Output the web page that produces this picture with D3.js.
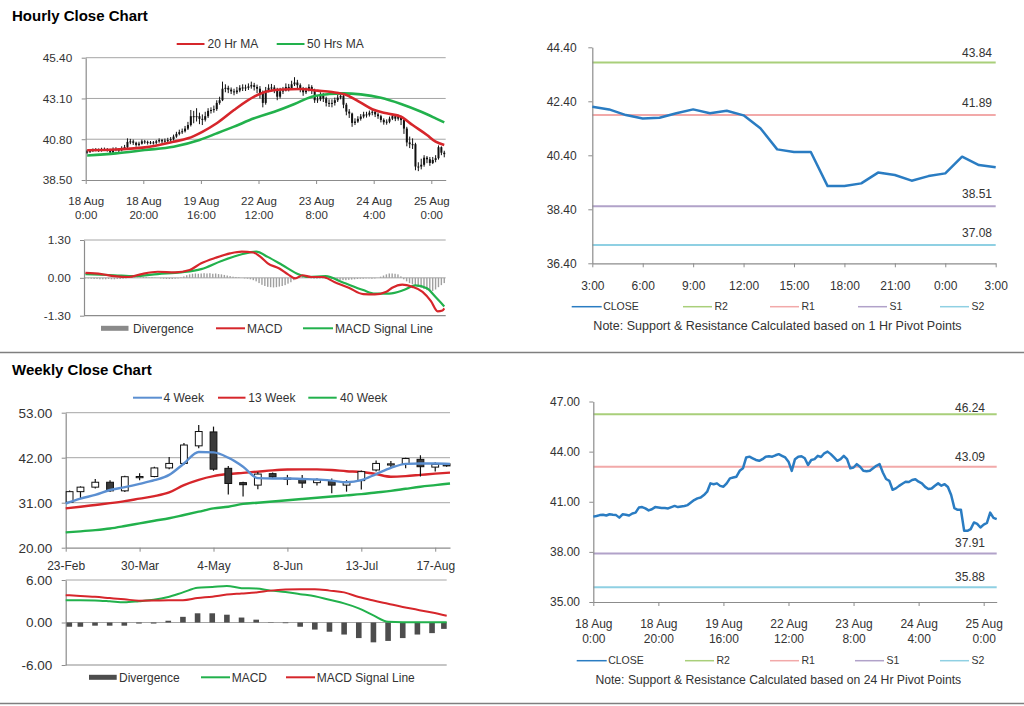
<!DOCTYPE html>
<html><head><meta charset="utf-8">
<script src="https://cdn.jsdelivr.net/npm/d3@7"></script>
<style>body{margin:0;background:#fff;}svg{display:block;}</style>
</head><body><svg id="c" width="1024" height="706"></svg>
<script>
// ---------------- DATA ----------------
// Hourly (18 Aug 0:00 .. 25 Aug), 125 trading hours
const hourTickIdx=[0,20,40,60,80,100,120];
const hourTickDates=["18 Aug","18 Aug","19 Aug","22 Aug","23 Aug","24 Aug","25 Aug"];
const hourTickTimes=["0:00","20:00","16:00","12:00","8:00","4:00","0:00"];

const hourlyClose=[40.11,40.15,40.20,40.22,40.18,40.25,40.22,40.20,40.05,40.25,
40.22,40.18,40.30,40.35,40.65,40.68,40.60,40.48,40.55,40.68,
40.65,40.62,40.62,40.60,40.68,40.75,40.68,40.72,40.75,40.80,
40.95,41.10,41.20,41.25,41.40,41.60,42.10,42.05,42.10,41.95,
41.90,42.10,42.40,42.45,42.50,42.85,43.00,43.65,43.70,43.60,
43.50,43.45,43.55,43.70,43.72,43.70,43.78,43.85,43.75,43.65,
43.40,42.85,43.55,43.70,43.72,43.60,43.20,43.50,43.55,43.75,
43.68,43.90,44.00,43.85,43.65,43.45,43.55,43.75,43.55,43.00,
43.05,43.25,43.10,42.85,42.82,42.85,43.00,43.15,43.25,42.75,
42.36,42.25,41.72,41.80,41.95,42.08,42.20,42.18,42.30,42.35,
42.20,42.10,41.89,41.76,41.79,41.96,42.10,41.96,42.05,41.88,
41.40,40.62,40.52,40.52,39.26,39.26,39.36,39.76,39.67,39.46,
39.63,39.73,40.35,40.04,39.96];
const hourlyOpen=[40.05,40.11,40.15,40.20,40.22,40.18,40.25,40.22,40.20,40.05,
40.25,40.22,40.18,40.30,40.35,40.65,40.68,40.60,40.48,40.55,
40.68,40.65,40.62,40.62,40.60,40.68,40.75,40.68,40.72,40.75,
40.80,40.95,41.10,41.20,41.25,41.40,41.60,42.10,42.05,42.10,
41.95,41.90,42.10,42.40,42.45,42.50,42.85,43.00,43.65,43.70,
43.60,43.50,43.45,43.55,43.70,43.72,43.70,43.78,43.85,43.75,
43.65,43.40,42.85,43.55,43.70,43.72,43.60,43.20,43.50,43.55,
43.75,43.68,43.90,44.00,43.85,43.65,43.45,43.55,43.75,43.55,
43.00,43.05,43.25,43.10,42.85,42.82,42.85,43.00,43.15,43.25,
42.75,42.36,42.25,41.72,41.80,41.95,42.08,42.20,42.18,42.30,
42.35,42.20,42.10,41.89,41.76,41.79,41.96,42.10,41.96,42.05,
41.88,41.40,40.62,40.52,40.52,39.26,39.26,39.36,39.76,39.67,
39.46,39.63,39.73,40.35,40.04];
const hourlyHigh=[40.20,40.22,40.28,40.30,40.28,40.32,40.33,40.30,40.26,40.34,
40.35,40.28,40.40,40.48,40.85,40.82,40.78,40.66,40.66,40.78,
40.76,40.72,40.70,40.70,40.76,40.85,40.82,40.84,40.88,40.92,
41.06,41.22,41.34,41.40,41.55,41.78,42.45,42.40,42.55,42.30,
42.20,42.35,42.55,42.60,42.70,43.00,43.20,44.05,43.90,43.82,
43.72,43.65,43.75,43.85,43.90,43.88,43.95,44.05,43.98,43.88,
43.80,43.55,43.75,43.90,43.92,43.85,43.70,43.70,43.75,43.95,
43.92,44.10,44.30,44.15,43.95,43.75,43.72,43.90,43.85,43.65,
43.25,43.45,43.40,43.20,43.05,43.05,43.15,43.30,43.45,43.35,
42.85,42.50,42.30,41.98,42.10,42.22,42.35,42.35,42.42,42.48,
42.45,42.30,42.18,41.98,41.92,42.08,42.22,42.20,42.18,42.12,
41.95,41.50,40.95,40.85,40.60,39.50,39.70,39.90,39.85,39.80,
39.80,39.90,40.45,40.40,40.15];
const hourlyLow=[39.98,40.02,40.08,40.12,40.08,40.10,40.14,40.10,39.96,40.00,
40.12,40.06,40.12,40.22,40.30,40.52,40.48,40.38,40.40,40.50,
40.54,40.50,40.52,40.50,40.52,40.60,40.58,40.60,40.64,40.66,
40.72,40.88,41.02,41.10,41.18,41.32,41.52,41.70,41.80,41.65,
41.60,41.80,42.00,42.25,42.30,42.40,42.75,42.95,43.45,43.40,
43.35,43.28,43.35,43.45,43.52,43.52,43.58,43.65,43.55,43.40,
43.10,42.60,42.75,43.45,43.50,43.40,43.00,43.10,43.35,43.50,
43.50,43.60,43.80,43.65,43.45,43.25,43.35,43.50,43.35,42.85,
42.85,42.95,42.90,42.65,42.62,42.60,42.70,42.90,43.05,42.55,
42.15,42.00,41.50,41.60,41.72,41.85,41.98,42.02,42.08,42.15,
42.05,41.95,41.75,41.62,41.62,41.70,41.88,41.82,41.85,41.60,
41.10,40.40,40.30,40.25,39.05,39.00,39.10,39.25,39.45,39.30,
39.40,39.50,39.65,39.90,39.78];

const ma20Hours=[0,10,20,30,35,40,45,51,58,62,68,74,80,85,90,95,99,104,109,113,118,121,124];
const ma20Values=[40.18,40.22,40.34,40.66,40.85,41.22,41.70,42.45,43.20,43.48,43.61,43.63,43.54,43.46,43.30,42.86,42.49,42.26,42.07,41.60,41.04,40.66,40.47];
const ma50Hours=[0,10,20,30,39,45,51,58,65,72,78,84,89,95,102,109,116,121,124];
const ma50Values=[39.88,40.00,40.19,40.38,40.76,41.13,41.51,41.98,42.35,42.79,43.20,43.35,43.39,43.33,43.14,42.79,42.35,41.98,41.75];

const hMacdHours=[0,5.5,10,15,19,25,31,36,40,45,50,54,58,60.5,63,67,70,72.5,75,78,82,86,91,96,100,104,106,109.5,113,116.5,119.4,121.7,123.4,124];
const hMacdValues=[0.17,0.13,0.06,0.03,0.12,0.21,0.19,0.27,0.50,0.69,0.84,0.90,0.87,0.72,0.50,0.32,0.12,-0.02,0.09,0.03,0.03,-0.14,-0.34,-0.56,-0.57,-0.48,-0.34,-0.23,-0.31,-0.48,-0.80,-1.15,-1.12,-1.05];
const hSignalHours=[0,10,17,25,33,40,47,54,59,63,68,73,77,83,89,96,100,105,110,114,118,121,124];
const hSignalValues=[0.13,0.09,0.06,0.13,0.19,0.30,0.58,0.81,0.90,0.72,0.44,0.15,0.03,0.06,-0.16,-0.42,-0.54,-0.54,-0.42,-0.26,-0.36,-0.66,-0.98];
const hDivergence=[-0.02,-0.02,-0.03,-0.04,-0.04,-0.05,-0.05,-0.05,-0.04,-0.05,
-0.05,-0.04,-0.04,-0.03,-0.02,0.02,0.03,0.02,0.01,0.02,
0.03,0.03,0.02,0.02,0.01,0.00,-0.02,-0.03,-0.04,-0.04,
-0.04,-0.03,-0.02,0.02,0.05,0.09,0.12,0.14,0.15,0.14,
0.15,0.16,0.15,0.16,0.14,0.15,0.13,0.12,0.10,0.08,
0.06,0.04,0.03,0.02,0.00,-0.02,-0.03,-0.05,-0.08,-0.12,
-0.18,-0.24,-0.28,-0.31,-0.32,-0.33,-0.32,-0.30,-0.28,-0.25,
-0.20,-0.15,-0.08,0.02,0.05,0.04,0.02,0.00,-0.02,-0.03,
-0.03,-0.02,-0.02,-0.03,-0.04,-0.05,-0.05,-0.06,-0.07,-0.08,
-0.08,-0.07,-0.06,-0.05,-0.04,-0.03,-0.03,-0.02,-0.02,-0.03,
-0.02,0.00,0.04,0.08,0.12,0.15,0.15,0.14,0.12,0.05,
-0.05,-0.12,-0.18,-0.22,-0.26,-0.30,-0.34,-0.38,-0.42,-0.44,
-0.45,-0.40,-0.32,-0.25,-0.18];

// 1-hour pivot chart (last 24 hours)
const pivotHourLabels=["3:00","6:00","9:00","12:00","15:00","18:00","21:00","0:00","3:00"];
const pivotHourClose=[42.20,42.10,41.89,41.76,41.79,41.96,42.10,41.96,42.05,41.88,41.40,40.62,40.52,40.52,39.26,39.26,39.36,39.76,39.67,39.46,39.63,39.73,40.35,40.04,39.96];
const pivotNames=["R2","R1","S1","S2"];
const pivot1hLevels=[43.84,41.89,38.51,37.08];
const pivot24hLevels=[46.24,43.09,37.91,35.88];
const pivotColors=["#a9cf7a","#f2a9a9","#b1a2c9","#8fd0e3"];

// Weekly
const weekTickIdx=[0,5,10,15,20,25];
const weekTickLabels=["23-Feb","30-Mar","4-May","8-Jun","13-Jul","17-Aug"];
const weekOpen=[31.1,33.7,34.8,36.0,33.9,37.2,37.4,39.5,40.6,44.9,48.3,39.4,35.9,35.3,38.1,36.9,36.7,35.9,36.4,35.3,36.4,39.0,40.4,40.5,41.6,39.7,40.5];
const weekHigh=[34.0,35.0,36.8,36.5,37.6,38.2,39.8,42.2,45.6,50.0,49.6,40.0,36.1,38.5,38.4,37.8,37.8,37.0,36.9,36.5,38.9,41.3,41.2,42.0,42.6,40.9,40.7];
const weekLow=[30.9,32.1,34.5,33.6,33.6,36.5,37.2,39.2,40.3,44.3,38.8,33.0,32.5,34.3,37.0,35.3,34.6,35.2,33.3,33.7,34.2,38.6,39.5,39.4,37.4,38.6,39.8];
const weekClose=[33.7,34.8,36.0,33.9,37.35,37.4,39.5,40.6,45.1,48.4,39.2,35.7,35.4,38.0,37.3,37.0,35.8,36.6,35.3,36.1,38.6,40.6,40.5,41.8,39.8,40.4,40.0];
const ma4Week=[30.8,32.0,32.9,34.1,34.8,35.6,36.5,37.8,40.6,43.4,43.3,42.0,39.8,37.0,36.9,36.9,36.8,36.7,36.4,36.0,36.5,38.0,39.5,40.5,40.6,40.6,40.5];
const ma13Week=[29.6,30.0,30.45,30.9,31.4,32.0,32.6,33.5,35.3,36.6,37.5,38.0,38.3,38.6,38.9,39.1,39.15,39.15,39.0,38.7,38.5,38.0,37.35,37.5,37.8,38.1,38.35];
const ma40Week=[23.75,24.0,24.3,24.7,25.3,25.95,26.6,27.2,28.0,28.8,29.6,30.0,30.7,31.0,31.3,31.6,31.9,32.2,32.5,32.8,33.1,33.5,33.9,34.4,34.9,35.3,35.7];
const wMacd=[3.15,3.15,3.12,3.0,2.85,3.0,3.2,3.6,4.25,4.9,5.0,5.15,4.85,4.8,4.5,4.3,4.0,3.72,3.2,2.7,2.0,1.0,0.1,0.05,0.05,0.05,0.05];
const wSignal=[3.86,3.75,3.62,3.45,3.28,3.08,3.1,3.15,3.15,3.45,3.65,3.95,4.1,4.25,4.5,4.65,4.7,4.7,4.5,4.25,3.6,3.1,2.65,2.2,1.8,1.4,0.95];
const wDivergence=[-0.6,-0.6,-0.45,-0.45,-0.45,-0.15,-0.15,0.25,0.8,1.3,1.3,1.1,0.7,0.4,0.05,-0.1,-0.6,-1.0,-1.3,-1.7,-2.2,-2.8,-2.6,-2.2,-1.7,-1.5,-0.9];

// ---------------- DRAWING ----------------
const svg=d3.select("#c");
const FONT="Arial, 'Liberation Sans', Helvetica, sans-serif";
const TXT="#333", AXIS="#8c8c8c", GRID="#a6a6a6";
const RED="#d6262b", GREEN="#22b14c", BLUE4="#5b8fd1", CLOSEC="#2a7cc2";
const fmt=d=>d.toFixed(2);

function addText(x,y,s,size,anchor="start",weight="normal",fill=TXT){
  return svg.append("text").attr("x",x).attr("y",y).attr("font-size",size).attr("font-family",FONT)
    .attr("font-weight",weight).attr("fill",fill).attr("text-anchor",anchor).text(s);
}
function leftAxis(x0,y,vals,size,pad){
  const g=svg.append("g").attr("transform",`translate(${x0},0)`)
    .call(d3.axisLeft(y).tickValues(vals).tickFormat(fmt).tickSize(4).tickSizeOuter(0).tickPadding(pad));
  g.attr("font-family",FONT).attr("font-size",size);
  g.select(".domain").attr("stroke",AXIS).attr("stroke-width",1.2);
  g.selectAll(".tick line").attr("stroke",AXIS);
  g.selectAll(".tick text").attr("fill",TXT);
  return g;
}
function bottomAxis(y0,x,vals,lines,size,offs){
  const g=svg.append("g").attr("transform",`translate(0,${y0})`)
    .call(d3.axisBottom(x).tickValues(vals).tickFormat("").tickSize(4).tickSizeOuter(0));
  g.select(".domain").attr("stroke",AXIS).attr("stroke-width",1.2);
  g.selectAll(".tick line").attr("stroke",AXIS);
  g.selectAll(".tick text").remove();
  g.selectAll(".tick").each(function(d,i){
    const t=d3.select(this);
    lines.forEach((arr,k)=>{
      t.append("text").attr("y",offs[k]).attr("text-anchor","middle").attr("font-family",FONT)
        .attr("font-size",size).attr("fill",TXT).text(arr[i]);
    });
  });
  return g;
}
function hLine(y,vals,x0,x1,color,w=1){
  svg.append("g").selectAll("line").data(vals).join("line")
    .attr("x1",x0).attr("x2",x1).attr("y1",d=>y(d)).attr("y2",d=>y(d))
    .attr("stroke",color).attr("stroke-width",w);
}
function legendLine(x0,x1,y,color,label,tx,size,w=2){
  svg.append("line").attr("x1",x0).attr("x2",x1).attr("y1",y).attr("y2",y).attr("stroke",color).attr("stroke-width",w);
  addText(tx,y+size*0.36,label,size);
}
function legendBar(x0,x1,y,color,label,tx,size){
  svg.append("rect").attr("x",x0).attr("y",y-2.5).attr("width",x1-x0).attr("height",5).attr("fill",color);
  addText(tx,y+size*0.36,label,size);
}

// Titles & separators
addText(12,21,"Hourly Close Chart",15,"start","bold","#000");
addText(12,375,"Weekly Close Chart",15,"start","bold","#000");
svg.append("line").attr("x1",0).attr("x2",1024).attr("y1",352.5).attr("y2",352.5).attr("stroke","#7f7f7f").attr("stroke-width",1.3);
svg.append("line").attr("x1",0).attr("x2",1024).attr("y1",703.5).attr("y2",703.5).attr("stroke","#7f7f7f").attr("stroke-width",1.3);

// ===== Top-left: hourly candles =====
{
  const x=d3.scaleLinear().domain([-0.5,124.5]).range([85.7,445.7]);
  const y=d3.scaleLinear().domain([38.5,45.4]).range([180,57.7]);
  hLine(y,[45.4,43.1,40.8],85.7,445.7,GRID);
  leftAxis(85.7,y,[38.5,40.8,43.1,45.4],11.8,9.5);
  bottomAxis(180,x,hourTickIdx.map(i=>i-0.5),[hourTickDates,hourTickTimes],11.5,[25,39]);
  const g=svg.append("g");
  g.selectAll("line").data(hourlyClose).join("line")
    .attr("x1",(d,i)=>x(i)).attr("x2",(d,i)=>x(i))
    .attr("y1",(d,i)=>y(hourlyHigh[i])).attr("y2",(d,i)=>y(hourlyLow[i]))
    .attr("stroke","#111").attr("stroke-width",1);
  g.selectAll("rect").data(hourlyClose).join("rect")
    .attr("x",(d,i)=>x(i)-1).attr("width",2)
    .attr("y",(d,i)=>y(Math.max(d,hourlyOpen[i])))
    .attr("height",(d,i)=>Math.max(1,Math.abs(y(d)-y(hourlyOpen[i]))))
    .attr("fill","#111");
  const ln=d3.line().x(d=>x(d[0])).y(d=>y(d[1])).curve(d3.curveMonotoneX);
  svg.append("path").attr("d",ln(d3.zip(ma50Hours,ma50Values))).attr("fill","none").attr("stroke",GREEN).attr("stroke-width",2.6);
  svg.append("path").attr("d",ln(d3.zip(ma20Hours,ma20Values))).attr("fill","none").attr("stroke",RED).attr("stroke-width",2.6);
  legendLine(176.7,204.5,44,RED,"20 Hr MA",207.5,12);
  legendLine(276.7,304.5,44,GREEN,"50 Hrs MA",307,12);
}
// ===== Top-left: hourly MACD =====
{
  const x=d3.scaleLinear().domain([-0.5,124.5]).range([84,445.7]);
  const y=d3.scaleLinear().domain([-1.3,1.3]).range([315.7,240]);
  hLine(y,[1.3,0],84,445.7,GRID);
  hLine(y,[-1.3],84,445.7,AXIS,1.2);
  leftAxis(84,y,[-1.3,0,1.3],11.8,9.3);
  svg.append("g").selectAll("rect").data(hDivergence).join("rect")
    .attr("x",(d,i)=>x(i)-0.7).attr("width",1.4)
    .attr("y",d=>y(Math.max(0,d))).attr("height",d=>Math.abs(y(d)-y(0)))
    .attr("fill","#a0a0a0");
  const ln=d3.line().x(d=>x(d[0])).y(d=>y(d[1])).curve(d3.curveMonotoneX);
  svg.append("path").attr("d",ln(d3.zip(hSignalHours,hSignalValues))).attr("fill","none").attr("stroke",GREEN).attr("stroke-width",2.2);
  svg.append("path").attr("d",ln(d3.zip(hMacdHours,hMacdValues))).attr("fill","none").attr("stroke",RED).attr("stroke-width",2.2);
  legendBar(101,128.5,328.3,"#8a8a8a","Divergence",133,12);
  legendLine(216,245,328.3,RED,"MACD",247,12);
  legendLine(303,333,328.3,GREEN,"MACD  Signal Line",335,12);
}
// ===== Pivot chart helper =====
function pivotChart(o){
  const y=d3.scaleLinear().domain(o.yDom).range([o.yb,o.yt]);
  o.levels.forEach((v,k)=>{
    svg.append("line").datum(v).attr("x1",o.x0).attr("x2",o.x1).attr("y1",d=>y(d)).attr("y2",d=>y(d))
      .attr("stroke",pivotColors[k]).attr("stroke-width",2);
    addText(o.labelX,Math.max(y(v)-o.labelOff,o.yt+o.labelMin)+4,fmt(v),12,"end");
  });
  leftAxis(o.x0,y,o.yTicks,12,o.pad);
  bottomAxis(o.yb,o.x,o.xTicks,o.xLabels,12,o.xOffs);
  svg.append("path").attr("d",d3.line().x((d,i)=>o.x(i)).y(d=>y(d))(o.close))
    .attr("fill","none").attr("stroke",CLOSEC).attr("stroke-width",2.5).attr("stroke-linejoin","round");
  const ly=o.legendY;
  legendLine(o.lg[0],o.lg[0]+30,ly,CLOSEC,"CLOSE",o.lg[0]+31.5,10.5,1.5);
  pivotNames.forEach((n,k)=>legendLine(o.lg[k+1],o.lg[k+1]+29,ly,pivotColors[k],n,o.lg[k+1]+31.5,10.5,1.5));
  addText(o.noteX,o.noteY,o.note,o.noteSize,"middle");
}
pivotChart({
  x:d3.scaleLinear().domain([0,24]).range([592.3,995.7]),
  x0:592.3,x1:995.7,yt:47.3,yb:263.3,yDom:[36.4,44.4],yTicks:[36.4,38.4,40.4,42.4,44.4],pad:11.6,
  levels:pivot1hLevels,labelX:992,labelOff:12,labelMin:6,
  xTicks:[0,3,6,9,12,15,18,21,24],xLabels:[pivotHourLabels],xOffs:[26.7],
  close:pivotHourClose,legendY:306.7,lg:[571.7,683,770,858,940],
  note:"Note: Support & Resistance Calculated based on 1 Hr Pivot Points",noteX:777.5,noteY:330.3,noteSize:12.5
});
pivotChart({
  x:d3.scaleLinear().domain([0,124]).range([593.3,996.7]),
  x0:593.3,x1:996.7,yt:401.5,yb:602,yDom:[35,47],yTicks:[35,38,41,44,47],pad:9.3,
  levels:pivot24hLevels,labelX:985,labelOff:10,labelMin:6.2,
  xTicks:hourTickIdx,xLabels:[hourTickDates,hourTickTimes],xOffs:[25.5,40.5],
  close:hourlyClose,legendY:660.7,lg:[576.7,685,770,855,940],
  note:"Note: Support & Resistance Calculated based on 24 Hr Pivot Points",noteX:778.3,noteY:684.3,noteSize:12.2
});
// ===== Bottom-left: weekly candles =====
{
  const x=d3.scaleLinear().domain([0,26]).range([65.7,450]);
  const y=d3.scaleLinear().domain([20,53]).range([547.7,412.7]);
  hLine(y,[53,42,31],65.7,450,GRID);
  leftAxis(65.7,y,[20,31,42,53],13.5,9.5);
  bottomAxis(547.7,x,weekTickIdx,[weekTickLabels],12,[22.5]);
  const bw=6.8;
  const cx=i=>Math.min(450-bw/2,Math.max(65.7+bw/2+0.5,x(i)));
  const ln=d3.line().x((d,i)=>x(i)).y(d=>y(d)).curve(d3.curveMonotoneX);
  svg.append("path").attr("d",ln(ma40Week)).attr("fill","none").attr("stroke",GREEN).attr("stroke-width",2.4);
  svg.append("path").attr("d",ln(ma13Week)).attr("fill","none").attr("stroke",RED).attr("stroke-width",2.4);
  const g=svg.append("g");
  g.selectAll("line").data(weekClose).join("line")
    .attr("x1",(d,i)=>cx(i)).attr("x2",(d,i)=>cx(i))
    .attr("y1",(d,i)=>y(weekHigh[i])).attr("y2",(d,i)=>y(weekLow[i]))
    .attr("stroke","#111").attr("stroke-width",1.2);
  g.selectAll("rect").data(weekClose).join("rect")
    .attr("x",(d,i)=>cx(i)-bw/2).attr("width",bw)
    .attr("y",(d,i)=>y(Math.max(d,weekOpen[i])))
    .attr("height",(d,i)=>Math.max(1.2,Math.abs(y(d)-y(weekOpen[i]))))
    .attr("fill",(d,i)=>d<weekOpen[i]?"#3a3a3a":"#fff")
    .attr("stroke","#111").attr("stroke-width",1);
  svg.append("path").attr("d",ln(ma4Week)).attr("fill","none").attr("stroke",BLUE4).attr("stroke-width",2.4);
  legendLine(133,162,397.7,BLUE4,"4 Week",163.5,12);
  legendLine(218,245.5,397.7,RED,"13 Week",248.3,12);
  legendLine(308.3,336.7,397.7,GREEN,"40 Week",340,12);
}
// ===== Bottom-left: weekly MACD =====
{
  const x=d3.scaleLinear().domain([0,26]).range([65.7,446.7]);
  const y=d3.scaleLinear().domain([-6,6]).range([665,580]);
  hLine(y,[6,0],65.7,446.7,GRID);
  hLine(y,[-6],65.7,446.7,AXIS,1.2);
  leftAxis(65.7,y,[-6,0,6],13.5,9.5);
  const bw=5.6;
  svg.append("g").selectAll("rect").data(wDivergence).join("rect")
    .attr("x",(d,i)=>Math.min(446.7-bw,Math.max(66.5,x(i)-bw/2))).attr("width",bw)
    .attr("y",d=>y(Math.max(0,d))).attr("height",d=>Math.abs(y(d)-y(0)))
    .attr("fill","#4d4d4d");
  const ln=d3.line().x((d,i)=>x(i)).y(d=>y(d)).curve(d3.curveMonotoneX);
  svg.append("path").attr("d",ln(wMacd)).attr("fill","none").attr("stroke",GREEN).attr("stroke-width",2);
  svg.append("path").attr("d",ln(wSignal)).attr("fill","none").attr("stroke",RED).attr("stroke-width",2);
  legendBar(89,116.7,677.3,"#4d4d4d","Divergence",119,12);
  legendLine(201,230,677.3,GREEN,"MACD",231.7,12);
  legendLine(286,315,677.3,RED,"MACD  Signal Line",316.7,12);
}
</script></body></html>
